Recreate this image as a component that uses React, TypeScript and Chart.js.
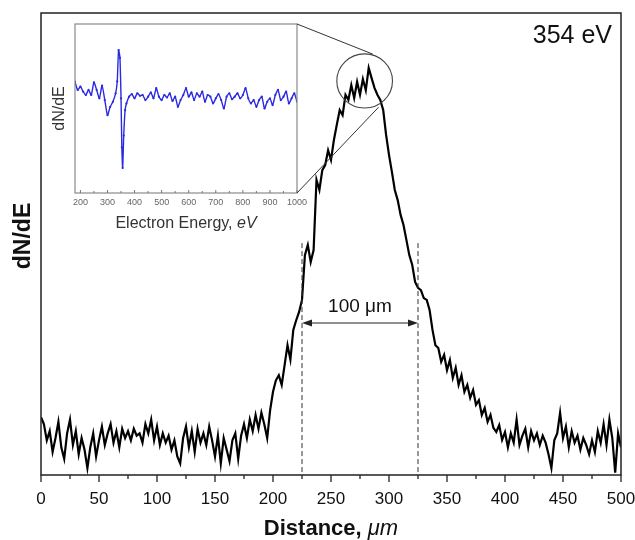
import React, { useEffect, useRef } from 'react';
import { Chart, registerables } from 'chart.js';

Chart.register(...registerables);

const FONT = '"Liberation Sans", Arial, Helvetica, sans-serif';

// ---- main profile: signal vs distance (µm), sampled every 2.5 µm from 0 to 500
const distanceStep = 2.5;
const distanceSignal = [
  12.5, 11.0, 7.5, 9.5, 5.0, 8.0, 11.5, 6.0, 3.5, 9.0, 12.0, 6.5, 9.5, 4.5, 8.0, 5.5, 1.5, 6.0, 9.0, 4.0,
  7.5, 10.5, 6.5, 9.0, 11.0, 7.0, 9.5, 6.0, 10.0, 8.0, 9.5, 7.5, 10.0, 8.5, 9.0, 7.0, 11.0, 9.0, 12.0, 7.5,
  10.5, 6.5, 9.0, 7.0, 8.5, 5.5, 7.5, 4.0, 2.5, 8.0, 10.5, 6.0, 9.5, 5.0, 10.0, 7.0, 9.0, 6.5, 10.5, 7.5,
  4.0, 8.5, 2.5, 8.0, 5.5, 3.0, 7.5, 9.0, 3.5, 8.5, 11.0, 8.0, 12.0, 9.5, 13.0, 10.0, 13.5, 11.0, 8.0, 14.0,
  18.0, 20.5, 21.6, 19.5, 23.8, 28.1, 25.0, 31.4, 33.5, 35.3, 37.9, 47.6, 49.8, 46.1, 48.7, 63.9, 61.7, 66.0, 67.1, 70.3,
  68.2, 72.5, 75.8, 79.0, 77.9, 82.3, 81.2, 84.4, 81.6, 85.1, 82.3, 85.7, 83.3, 88.1, 85.9, 83.8, 82.3, 81.2, 79.0, 73.6,
  69.3, 65.6, 61.7, 59.5, 56.3, 54.1, 50.9, 47.6, 45.5, 41.8, 40.5, 40.0, 38.3, 37.9, 35.7, 31.4, 28.1, 27.5, 24.5, 26.0,
  22.7, 24.9, 21.0, 23.2, 19.5, 21.6, 18.0, 19.5, 16.7, 18.4, 15.2, 16.2, 13.0, 14.5, 11.5, 13.0, 10.2, 9.3, 10.8, 7.6,
  9.3, 6.0, 9.0, 7.0, 12.0, 6.5, 8.5, 10.0, 6.0, 9.5, 7.5, 9.0, 6.5, 8.5, 7.0, 4.5, 1.5, 7.5, 9.0, 13.5,
  8.0, 10.5, 6.0, 9.5, 7.0, 8.5, 5.5, 8.0, 6.5, 4.5, 7.5, 5.0, 9.5, 7.0, 11.0, 6.5, 12.0, 8.0, 0.5, 9.0, 6.0,
];
const distanceTickValues = [0, 50, 100, 150, 200, 250, 300, 350, 400, 450, 500];
const distanceMinorStep = 25;

// annotations on the main profile (data units)
const widthMarkers = [225, 325];
const widthMarkerTop = 50.2;
const widthArrowLevel = 32.9;
const widthLabel = '100 μm';
const widthLabelPos = { x: 275, y: 35.3 };
const zoomCircle = { x: 279, y: 85.3, rx: 24, ry: 5.85 };
const connectorTop = { x: 286, y: 91.1 };
const connectorBottom = { x: 291, y: 79.6 };
const energyLabel = '354 eV';

// ---- inset spectrum: dN/dE vs electron energy (eV)
const insetEnergy = [
  180, 190, 200, 210, 220, 230, 240, 250, 260, 270, 280, 290, 300, 310, 320, 330, 336, 341, 346, 350,
  353, 356, 360, 365, 370, 380, 390, 400, 410, 420, 430, 440, 450, 460, 470, 480, 490, 500, 510, 520,
  530, 540, 550, 560, 570, 580, 590, 600, 610, 620, 630, 640, 650, 660, 670, 680, 690, 700, 710, 720,
  730, 740, 750, 760, 770, 780, 790, 800, 810, 820, 830, 840, 850, 860, 870, 880, 890, 900, 910, 920,
  930, 940, 950, 960, 970, 980, 990, 1000,
];
const insetSignal = [
  65.9, 61, 63, 60, 58, 61, 58, 65.5, 61, 56, 63.5, 55, 46, 51, 54, 59, 66, 84.6, 80, 56,
  27, 14.8, 34, 49, 53, 57, 58.5, 56, 59, 57.5, 58, 55, 57, 59.5, 56, 62, 57, 55, 58, 56.5,
  59, 54.5, 57, 51, 55, 58, 62, 57, 59.5, 55, 59, 57, 60, 54, 58, 57, 53, 56, 58.5, 55,
  50, 57, 59, 55.5, 57, 59, 56, 58, 62, 56, 53, 55, 51, 55, 57, 50, 54, 56, 52, 58,
  61, 55, 57, 60, 53, 56, 59, 54,
];
const insetTickValues = [200, 300, 400, 500, 600, 700, 800, 900, 1000];
const insetMinorStep = 50;

function drawMixedText(ctx: CanvasRenderingContext2D, parts: { text: string; font: string }[], cx: number, baseline: number) {
  let total = 0;
  const widths = parts.map((p) => {
    ctx.font = p.font;
    const w = ctx.measureText(p.text).width;
    total += w;
    return w;
  });
  let xPos = cx - total / 2;
  ctx.textAlign = 'left';
  ctx.textBaseline = 'alphabetic';
  parts.forEach((p, i) => {
    ctx.font = p.font;
    ctx.fillText(p.text, xPos, baseline);
    xPos += widths[i];
  });
}

export default function App() {
  const mainRef = useRef<HTMLCanvasElement>(null);
  const insetRef = useRef<HTMLCanvasElement>(null);

  useEffect(() => {
    if (!mainRef.current || !insetRef.current) return;

    const mainDecor = {
      id: 'mainDecor',
      afterDraw(chart: any) {
        const { ctx, chartArea: a } = chart;
        const x = chart.scales.x;
        const y = chart.scales.y;
        ctx.save();
        // frame
        ctx.strokeStyle = '#222';
        ctx.lineWidth = 1.5;
        ctx.strokeRect(a.left, a.top, a.right - a.left, a.bottom - a.top);
        // x ticks (outward)
        ctx.lineWidth = 1.3;
        for (let v = x.min; v <= x.max + 1e-6; v += distanceMinorStep) {
          const px = x.getPixelForValue(v);
          const major = distanceTickValues.includes(v);
          ctx.beginPath();
          ctx.moveTo(px, a.bottom);
          ctx.lineTo(px, a.bottom + (major ? 7 : 4));
          ctx.stroke();
        }
        // dashed width markers
        ctx.strokeStyle = '#333';
        ctx.lineWidth = 1;
        ctx.setLineDash([5, 3]);
        for (const m of widthMarkers) {
          const px = x.getPixelForValue(m);
          ctx.beginPath();
          ctx.moveTo(px, y.getPixelForValue(widthMarkerTop));
          ctx.lineTo(px, a.bottom);
          ctx.stroke();
        }
        ctx.setLineDash([]);
        // double arrow
        const ay = y.getPixelForValue(widthArrowLevel);
        const x1 = x.getPixelForValue(widthMarkers[0]);
        const x2 = x.getPixelForValue(widthMarkers[1]);
        ctx.strokeStyle = '#222';
        ctx.fillStyle = '#222';
        ctx.lineWidth = 1.2;
        ctx.beginPath();
        ctx.moveTo(x1 + 4, ay);
        ctx.lineTo(x2 - 4, ay);
        ctx.stroke();
        const head = (tip: number, dir: number) => {
          ctx.beginPath();
          ctx.moveTo(tip, ay);
          ctx.lineTo(tip + dir * 10, ay - 3.5);
          ctx.lineTo(tip + dir * 10, ay + 3.5);
          ctx.closePath();
          ctx.fill();
        };
        head(x1, 1);
        head(x2, -1);
        // width label
        ctx.fillStyle = '#111';
        ctx.font = `19px ${FONT}`;
        ctx.textAlign = 'center';
        ctx.textBaseline = 'alphabetic';
        ctx.fillText(widthLabel, x.getPixelForValue(widthLabelPos.x), y.getPixelForValue(widthLabelPos.y));
        // zoom circle
        const cx = x.getPixelForValue(zoomCircle.x);
        const cy = y.getPixelForValue(zoomCircle.y);
        const rx = x.getPixelForValue(zoomCircle.x + zoomCircle.rx) - cx;
        const ry = cy - y.getPixelForValue(zoomCircle.y + zoomCircle.ry);
        ctx.strokeStyle = '#444';
        ctx.lineWidth = 1.1;
        ctx.beginPath();
        ctx.ellipse(cx, cy, rx, ry, 0, 0, Math.PI * 2);
        ctx.stroke();
        // energy label
        ctx.fillStyle = '#111';
        ctx.font = `25px ${FONT}`;
        ctx.textAlign = 'right';
        ctx.fillText(energyLabel, a.right - 9, a.top + 30);
        // y title
        ctx.save();
        ctx.translate(24, a.top + 223);
        ctx.rotate(-Math.PI / 2);
        ctx.font = `bold 23px ${FONT}`;
        ctx.textAlign = 'center';
        ctx.textBaseline = 'middle';
        ctx.fillText('dN/dE', 0, 0);
        ctx.restore();
        // x title
        ctx.fillStyle = '#111';
        drawMixedText(
          ctx,
          [
            { text: 'Distance, ', font: `bold 22px ${FONT}` },
            { text: 'μm', font: `italic 22px ${FONT}` },
          ],
          (a.left + a.right) / 2,
          535
        );
        ctx.restore();
      },
    };

    const mainChart = new Chart(mainRef.current, {
      type: 'line',
      data: {
        datasets: [
          {
            data: distanceSignal.map((v, i) => ({ x: i * distanceStep, y: v })),
            borderColor: '#000',
            borderWidth: 2.2,
            pointRadius: 0,
            tension: 0,
            fill: false,
          },
        ],
      },
      options: {
        animation: false,
        responsive: false,
        parsing: false as any,
        layout: { padding: { left: 41, right: 14, top: 13, bottom: 0 } },
        plugins: { legend: { display: false }, tooltip: { enabled: false } },
        scales: {
          x: {
            type: 'linear',
            min: 0,
            max: 500,
            grid: { display: false, drawTicks: false },
            border: { display: false },
            afterBuildTicks: (s: any) => {
              s.ticks = distanceTickValues.map((v) => ({ value: v }));
            },
            afterFit: (s: any) => {
              s.height = 65;
              s.paddingLeft = 0;
              s.paddingRight = 0;
            },
            ticks: {
              padding: 14,
              color: '#111',
              font: { family: FONT, size: 17 },
              maxRotation: 0,
              autoSkip: false,
              callback: (v: any) => String(v),
            },
          },
          y: { display: false, min: 0, max: 100 },
        },
      },
      plugins: [mainDecor],
    });

    const insetDecor = {
      id: 'insetDecor',
      afterDraw(chart: any) {
        const { ctx, chartArea: a } = chart;
        const x = chart.scales.x;
        ctx.save();
        ctx.strokeStyle = '#8a8a8a';
        ctx.lineWidth = 1.2;
        ctx.strokeRect(a.left, a.top, a.right - a.left, a.bottom - a.top);
        // inward ticks
        ctx.strokeStyle = '#777';
        ctx.lineWidth = 1;
        for (let v = insetTickValues[0]; v <= x.max + 1e-6; v += insetMinorStep) {
          const px = x.getPixelForValue(v);
          ctx.beginPath();
          ctx.moveTo(px, a.bottom);
          ctx.lineTo(px, a.bottom - (insetTickValues.includes(v) ? 3 : 2));
          ctx.stroke();
        }
        // titles
        ctx.fillStyle = '#333';
        ctx.save();
        ctx.translate(a.left - 15, (a.top + a.bottom) / 2);
        ctx.rotate(-Math.PI / 2);
        ctx.font = `16px ${FONT}`;
        ctx.textAlign = 'center';
        ctx.textBaseline = 'middle';
        ctx.fillText('dN/dE', 0, 0);
        ctx.restore();
        drawMixedText(
          ctx,
          [
            { text: 'Electron Energy, ', font: `16px ${FONT}` },
            { text: 'eV', font: `italic 16px ${FONT}` },
          ],
          (a.left + a.right) / 2,
          228
        );
        // connector lines to the zoom circle on the main chart
        const mx = mainChart.scales.x;
        const my = mainChart.scales.y;
        ctx.strokeStyle = '#333';
        ctx.lineWidth = 1;
        ctx.beginPath();
        ctx.moveTo(a.right, a.top);
        ctx.lineTo(mx.getPixelForValue(connectorTop.x), my.getPixelForValue(connectorTop.y));
        ctx.moveTo(a.right, a.bottom);
        ctx.lineTo(mx.getPixelForValue(connectorBottom.x), my.getPixelForValue(connectorBottom.y));
        ctx.stroke();
        ctx.restore();
      },
    };

    const insetChart = new Chart(insetRef.current, {
      type: 'line',
      data: {
        datasets: [
          {
            data: insetEnergy.map((e, i) => ({ x: e, y: insetSignal[i] })),
            borderColor: '#2a2ae0',
            backgroundColor: '#2a2ae0',
            borderWidth: 1.4,
            pointRadius: 1.1,
            pointBorderWidth: 0,
            tension: 0.2,
            fill: false,
          },
        ],
      },
      options: {
        animation: false,
        responsive: false,
        parsing: false as any,
        layout: { padding: { left: 75, right: 338, top: 24, bottom: 0 } },
        plugins: { legend: { display: false }, tooltip: { enabled: false } },
        scales: {
          x: {
            type: 'linear',
            min: 180,
            max: 1000,
            grid: { display: false, drawTicks: false },
            border: { display: false },
            afterBuildTicks: (s: any) => {
              s.ticks = insetTickValues.map((v) => ({ value: v }));
            },
            afterFit: (s: any) => {
              s.height = 347;
              s.paddingLeft = 0;
              s.paddingRight = 0;
            },
            ticks: {
              padding: 4,
              color: '#666',
              font: { family: FONT, size: 9 },
              maxRotation: 0,
              autoSkip: false,
              callback: (v: any) => String(v),
            },
          },
          y: { display: false, min: 0, max: 100 },
        },
      },
      plugins: [insetDecor],
    });

    return () => {
      insetChart.destroy();
      mainChart.destroy();
    };
  }, []);

  return (
    <div style={{ position: 'fixed', left: 0, top: 0, width: 635, height: 540, background: '#fff' }}>
      <canvas ref={mainRef} width={635} height={540} style={{ position: 'absolute', left: 0, top: 0 }} />
      <canvas ref={insetRef} width={635} height={540} style={{ position: 'absolute', left: 0, top: 0, pointerEvents: 'none' }} />
    </div>
  );
}
